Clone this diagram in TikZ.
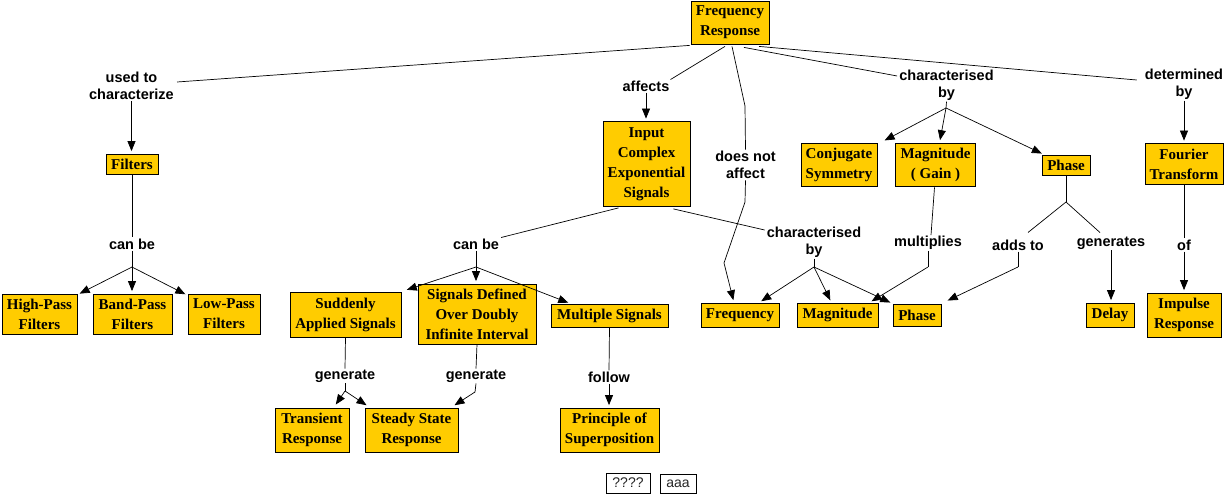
\documentclass[tikz,border=0pt]{standalone}
\usepackage{fontspec}
\setmainfont{Liberation Serif}
\setsansfont{Liberation Sans}
\usetikzlibrary{arrows.meta,calc}
\definecolor{boxfill}{RGB}{255,204,0}
\tikzset{
  concept/.style={draw=black,fill=boxfill,line width=0.8pt,align=center,inner sep=0pt,
    font=\fontsize{15}{20}\selectfont\bfseries},
  sz/.style 2 args={minimum width=#1pt,minimum height=#2pt},
  lab/.style={align=center,inner sep=1pt,font=\fontsize{14.5}{17.5}\selectfont\sffamily\bfseries},
  link/.style={line width=0.7pt,draw=black},
  arr/.style={link,-{Triangle[length=10pt,width=8pt]},shorten >=2.5pt},
  plainbox/.style={draw=black,fill=white,line width=0.6pt,inner sep=0pt,
    font=\fontsize{14}{16}\selectfont\sffamily,text=black!85}
}
\begin{document}
\begin{tikzpicture}[x=1pt,y=-1pt]
\fill[white] (0,0) rectangle (1228,496);
\useasboundingbox (0,0) rectangle (1228,496);

% concepts
\node[concept,sz={78}{43}] (fr) at (730,22.5) {Frequency\\Response};
\node[concept,sz={52}{20}] (filters) at (132,164) {Filters};
\node[concept,sz={75}{40}] (hp) at (39.5,314) {High-Pass\\Filters};
\node[concept,sz={79}{40}] (bp) at (132.5,314) {Band-Pass\\Filters};
\node[concept,sz={72}{40}] (lp) at (224,314) {Low-Pass\\Filters};
\node[concept,sz={87}{85}] (ices) at (646.5,164) {Input\\Complex\\Exponential\\Signals};
\node[concept,sz={76}{43}] (cs) at (839,164.5) {Conjugate\\Symmetry};
\node[concept,sz={80}{43}] (mg) at (935.5,164.5) {Magnitude\\( Gain )};
\node[concept,sz={48}{20}] (pht) at (1066,165) {Phase};
\node[concept,sz={78}{41}] (ft) at (1184,164) {Fourier\\Transform};
\node[concept,sz={111}{45}] (sas) at (345.5,314.5) {Suddenly\\Applied Signals};
\node[concept,sz={118}{60}] (sdo) at (477,314) {Signals Defined\\Over Doubly\\Infinite Interval};
\node[concept,sz={117}{23}] (ms) at (609.5,315.5) {Multiple Signals};
\node[concept,sz={74}{44}] (tr) at (312,430) {Transient\\Response};
\node[concept,sz={93}{44}] (ssr) at (411.5,430) {Steady State\\Response};
\node[concept,sz={99}{44}] (pos) at (609.5,430) {Principle of\\Superposition};
\node[concept,sz={78}{24}] (freq) at (740,315) {Frequency};
\node[concept,sz={81}{24}] (mag) at (837.5,315) {Magnitude};
\node[concept,sz={48}{22}] (phb) at (917,315) {Phase};
\node[concept,sz={48}{24}] (delay) at (1110,315) {Delay};
\node[concept,sz={74}{44}] (ir) at (1184,315) {Impulse\\Response};
\node[plainbox,sz={44}{20}] (qq) at (628,483) {????};
\node[plainbox,sz={36}{19}] (aa) at (678,483.5) {aaa};

% labels
\node[lab] (used) at (131.5,86) {used to\\characterize};
\node[lab] (canbeA) at (132,244) {can be};
\node[lab] (affects) at (646,86) {affects};
\node[lab] (dna) at (745.5,165) {does not\\affect};
\node[lab] (cbA) at (946.5,85) {characterised\\by};
\node[lab] (det) at (1184,84) {determined\\by};
\node[lab] (canbeB) at (476,244) {can be};
\node[lab] (cbB) at (814,242) {characterised\\by};
\node[lab] (mult) at (928,243) {multiplies};
\node[lab] (adds) at (1018,245) {adds to};
\node[lab] (gens) at (1111,243) {generates};
\node[lab] (of) at (1184,245) {of};
\node[lab] (genA) at (345,376) {generate};
\node[lab] (genB) at (476,376) {generate};
\node[lab] (follow) at (609,377) {follow};

% branch / bend points
\coordinate (b1) at (132,267);
\coordinate (b2) at (476,267);
\coordinate (b3) at (345,391);
\coordinate (b4) at (475,392);
\coordinate (b5) at (814,267);
\coordinate (b6) at (928,267);
\coordinate (b7) at (1066,202);
\coordinate (b8) at (1018,267);
\coordinate (b9) at (946,108);
\coordinate (d1) at (745,106);
\coordinate (d2) at (745,202);
\coordinate (d3) at (724,263);

% Frequency Response links
\draw[link] ($(fr.south west)+(-1,1)$) -- ($(used.east)+(2,-4)$);
\draw[arr] (used.south) -- (used.south |- filters.north);
\draw[link] (filters.south) -- (canbeA.north);
\draw[link] (canbeA.south) -- (b1);
\draw[arr] (b1) -- (hp);
\draw[arr] (b1) -- (b1 |- bp.north);
\draw[arr] (b1) -- (lp);

\draw[link] ($(fr.south)+(-5,2)$) -- (affects.north east);
\draw[arr] (affects.south) -- (affects.south |- ices.north);

\draw[link] ($(fr.south)+(2,2)$) -- (d1) -- (dna.north);
\draw[arr] (dna.south) -- (d2) -- (d3) -- ($(freq.north)+(-6,0)$);

\draw[link] ($(fr.south)+(14,3)$) -- ($(cbA.west)+(-1,-9)$);
\draw[link] (cbA.south) -- (b9);
\draw[arr] (b9) -- ($(cs.north east)+(5,-1)$);
\draw[arr] (b9) -- (mg);
\draw[arr] (b9) -- (pht);

\draw[link] ($(fr.south)+(29,2)$) -- ($(det.west)+(-7,-4)$);
\draw[arr] (det.south) -- (det.south |- ft.north);

% Input Complex Exponential Signals links
\draw[link] ($(ices.south)+(-28,1)$) -- ($(canbeB.north east)+(1,0)$);
\draw[link] (canbeB.south) -- (b2);
\draw[arr] (b2) -- ($(sas.north east)+(3,-1)$);
\draw[arr] (b2) -- (b2 |- sdo.north);
\draw[arr] (b2) -- ($(ms.north west)+(20,0)$);

\draw[link] ($(ices.south east)+(-17,2)$) -- ($(cbB.west)+(-1,-12)$);
\draw[link] (cbB.south) -- (b5);
\draw[arr] (b5) -- (freq);
\draw[arr] (b5) -- (mag);
\draw[arr] (b5) -- (phb.north west);

% signals links
\draw[link] (sas.south) -- (genA.north);
\draw[link] (genA.south) -- (b3);
\draw[arr] (b3) -- ($(tr.north east)+(-15,-1)$);
\draw[arr] (b3) -- ($(ssr.north west)+(4,-1)$);
\draw[link] (sdo.south) -- (genB.north);
\draw[arr] (genB.south) -- (b4) -- ($(ssr.north east)+(-6,-1)$);
\draw[link] (ms.south) -- (follow.north);
\draw[arr] (follow.south) -- (follow.south |- pos.north);

% magnitude / phase links
\draw[link] ($(mg.south)+(-1,1)$) -- ($(mult.north)+(3,0)$);
\draw[link] (mult.south) -- (b6);
\draw[arr] (b6) -- ($(mag.north east)+(-9,0)$);
\draw[link] (pht.south) -- (b7);
\draw[link] (b7) -- ($(adds.north)+(10,-6)$);
\draw[link] (b7) -- ($(gens.north)+(-11,-3)$);
\draw[link] (adds.south) -- (b8);
\draw[arr] (b8) -- ($(phb.north east)+(4,-2)$);
\draw[arr] (gens.south) -- (gens.south |- delay.north);

% Fourier transform links
\draw[link] (ft.south) -- (of.north);
\draw[arr] (of.south) -- (of.south |- ir.north);
\end{tikzpicture}
\end{document}
